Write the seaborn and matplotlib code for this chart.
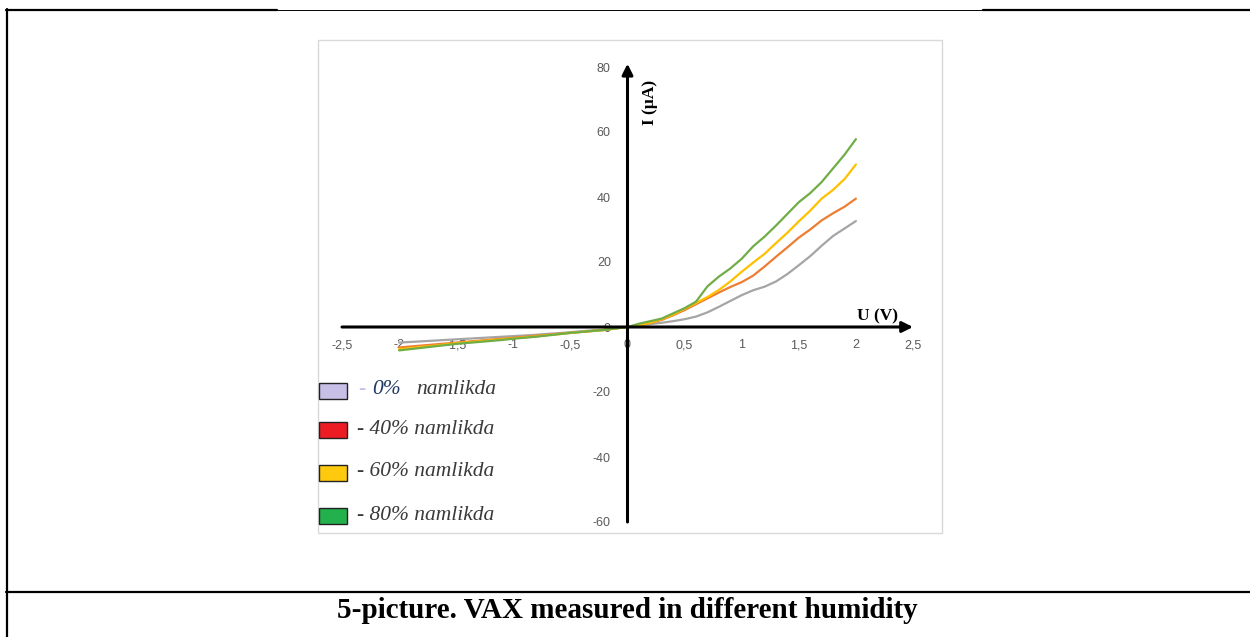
import numpy as np
import pandas as pd
import matplotlib
matplotlib.use('Agg')
import matplotlib.pyplot as plt
import seaborn as sns
from matplotlib.patches import Rectangle
from matplotlib.lines import Line2D

# voltage points (V)
u_vals = [-2.0, -1.9, -1.8, -1.7, -1.6, -1.5, -1.4, -1.3, -1.2, -1.1, -1.0,
          -0.9, -0.8, -0.7, -0.6, -0.5, -0.4, -0.3, -0.2, -0.1, 0.0,
          0.1, 0.2, 0.3, 0.4, 0.5, 0.6, 0.7, 0.8, 0.9, 1.0,
          1.1, 1.2, 1.3, 1.4, 1.5, 1.6, 1.7, 1.8, 1.9, 2.0]

# current (uA) for each humidity
i_0 = [-4.8, -4.6, -4.4, -4.2, -4.0, -3.8, -3.6, -3.4, -3.2, -3.0, -2.8,
       -2.6, -2.4, -2.1, -1.9, -1.6, -1.3, -1.0, -0.8, -0.4, 0.0,
       0.4, 0.9, 1.3, 1.8, 2.4, 3.2, 4.5, 6.2, 8.0, 9.8,
       11.3, 12.4, 14.0, 16.3, 19.0, 21.8, 25.0, 28.0, 30.3, 32.6]
i_40 = [-6.3, -6.0, -5.7, -5.4, -5.1, -4.8, -4.5, -4.2, -3.9, -3.6, -3.3,
        -3.0, -2.7, -2.4, -2.1, -1.8, -1.5, -1.2, -0.9, -0.4, 0.0,
        0.5, 1.2, 2.2, 3.6, 5.2, 7.0, 8.8, 10.6, 12.3, 13.8,
        15.8, 18.6, 21.6, 24.5, 27.5, 30.0, 32.8, 35.0, 37.0, 39.5]
i_60 = [-6.8, -6.5, -6.1, -5.8, -5.4, -5.0, -4.7, -4.4, -4.1, -3.8, -3.5,
        -3.2, -2.9, -2.5, -2.2, -1.8, -1.5, -1.2, -0.9, -0.4, 0.0,
        0.6, 1.3, 2.4, 3.8, 5.6, 7.4, 9.2, 11.4, 14.0, 17.0,
        19.8, 22.5, 25.8, 29.0, 32.5, 35.8, 39.5, 42.2, 45.5, 50.0]
i_80 = [-7.2, -6.8, -6.4, -6.0, -5.6, -5.2, -4.9, -4.6, -4.3, -4.0, -3.6,
        -3.3, -3.0, -2.6, -2.2, -1.8, -1.5, -1.2, -0.9, -0.4, 0.0,
        1.0, 1.8, 2.6, 4.2, 5.8, 7.8, 12.5, 15.5, 18.0, 21.0,
        24.8, 27.8, 31.2, 34.8, 38.4, 41.2, 44.6, 48.8, 53.0, 57.8]

series_names = ['0%', '40%', '60%', '80%']
line_colors = ['#A5A5A5', '#ED7D31', '#FFC000', '#70AD47']
patch_colors = ['#C8BFE7', '#ED1C24', '#FFC90E', '#22B14C']
legend_pct = ['0%', '40%', '60%', '80%']

x_ticks = [-2.5, -2, -1.5, -1, -0.5, 0, 0.5, 1, 1.5, 2, 2.5]
y_ticks = [-60, -40, -20, 0, 20, 40, 60, 80]

df = pd.concat([
    pd.DataFrame({'U': u_vals, 'I': vals, 'h': name})
    for name, vals in zip(series_names, [i_0, i_40, i_60, i_80])
])

sns.set_style('white')
plt.rcParams['font.family'] = ['Liberation Sans', 'DejaVu Sans']

W, H = 1250, 637
fig = plt.figure(figsize=(12.5, 6.37), dpi=100)
fig.patch.set_facecolor('white')

def fx(px):
    return px / W

def fy(py):
    return 1 - py / H

# page frame lines
fig.add_artist(Line2D([fx(6), fx(277)], [fy(10), fy(10)], color='black', lw=1.6))
fig.add_artist(Line2D([fx(277), fx(983)], [fy(10), fy(10)], color='black', lw=0.7))
fig.add_artist(Line2D([fx(983), fx(1250)], [fy(10), fy(10)], color='black', lw=1.6))
fig.add_artist(Line2D([fx(6.5), fx(6.5)], [fy(9), fy(637)], color='black', lw=1.6))
fig.add_artist(Line2D([fx(6), fx(1250)], [fy(592), fy(592)], color='black', lw=1.6))

# chart area box
fig.add_artist(Rectangle((fx(318), fy(533)), fx(942) - fx(318), fy(40) - fy(533),
                         transform=fig.transFigure, fill=False,
                         edgecolor='#D9D9D9', lw=1))

ax = fig.add_axes([fx(342), fy(522), fx(913) - fx(342), fy(67) - fy(522)])
ax.set_facecolor('none')

sns.lineplot(data=df, x='U', y='I', hue='h', palette=line_colors,
             linewidth=1.6, legend=False, ax=ax)

ax.set_xlim(-2.5, 2.5)
ax.set_ylim(-60, 80)
ax.set_xlabel('')
ax.set_ylabel('')

for side in ['top', 'right', 'left', 'bottom']:
    ax.spines[side].set_visible(False)
ax.spines['bottom'].set_position(('data', 0))
ax.spines['left'].set_position(('data', 0))

ax.set_xticks(x_ticks)
ax.set_xticklabels([('%g' % v).replace('.', ',') for v in x_ticks])
ax.set_yticks(y_ticks)
ax.set_yticklabels([str(v) for v in y_ticks])
ax.tick_params(axis='x', length=0, pad=9, labelsize=9, labelcolor='#595959')
ax.tick_params(axis='y', length=0, pad=12, labelsize=9, labelcolor='#595959')

# axis arrows
arrow = dict(arrowstyle='-|>', color='black', lw=2.2, mutation_scale=16,
             shrinkA=0, shrinkB=0)
ax.annotate('', xy=(2.5, 0), xytext=(-2.5, 0), arrowprops=arrow,
            annotation_clip=False)
ax.annotate('', xy=(0, 81), xytext=(0, -60), arrowprops=arrow,
            annotation_clip=False)

ax.text(2.19, 3.3, 'U (V)', fontsize=12.5, fontweight='bold', color='black',
        family='Liberation Serif', ha='center', va='center')
ax.text(0.2, 69, 'I (µA)', fontsize=12.5, fontweight='bold', rotation=90,
        color='black', family='Liberation Serif', ha='center', va='center')

# hand-drawn style legend
legend_y = [391, 430, 473, 516]
leg_font = dict(fontsize=15.5, style='italic', family='Liberation Serif',
                va='center', ha='left')
for k, (yy, pc, pct) in enumerate(zip(legend_y, patch_colors, legend_pct)):
    fig.add_artist(Rectangle((fx(319), fy(yy + 8)), fx(28), fy(0) - fy(16),
                             transform=fig.transFigure, facecolor=pc,
                             edgecolor='#222222', lw=1))
    if k == 0:
        fig.text(fx(358), fy(yy - 2), '-', color='#C8BFE7', **leg_font)
        fig.text(fx(372), fy(yy - 2), pct, color='#1F3864', **leg_font)
        fig.text(fx(416), fy(yy - 2), 'namlikda', color='#3a3a3a', **leg_font)
    else:
        fig.text(fx(357), fy(yy - 1), '- ' + pct + ' namlikda',
                 color='#3a3a3a', **leg_font)

fig.text(fx(627), fy(610), '5-picture. VAX measured in different humidity',
         fontsize=21, fontweight='bold', family='Liberation Serif',
         color='black', ha='center', va='center')

fig.savefig('out.png', dpi=100, facecolor='white')
